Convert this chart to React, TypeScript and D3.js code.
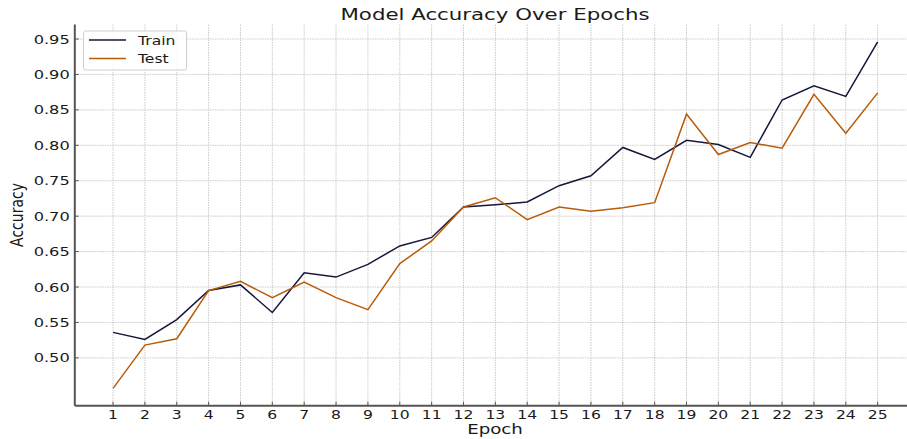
import React from "react";
import * as d3 from "d3";

const epochs = [1,2,3,4,5,6,7,8,9,10,11,12,13,14,15,16,17,18,19,20,21,22,23,24,25];
const trainAcc = [0.536,0.526,0.554,0.595,0.603,0.564,0.620,0.614,0.632,0.658,0.670,0.713,0.716,0.720,0.743,0.757,0.797,0.780,0.807,0.801,0.783,0.864,0.884,0.869,0.946];
const testAcc = [0.457,0.518,0.527,0.595,0.608,0.585,0.607,0.585,0.568,0.633,0.665,0.713,0.726,0.695,0.713,0.707,0.712,0.719,0.844,0.787,0.804,0.796,0.872,0.817,0.874];
const yTicks = [0.5,0.55,0.6,0.65,0.7,0.75,0.8,0.85,0.9,0.95];
const seriesNames = ["Train","Test"];
const colors = ["#16163a","#b85c0a"];

const W = 907, H = 439;
const FONT = "DejaVu Sans, sans-serif";
const SX = 1.3;

export default function App() {
  const x = d3.scaleLinear().domain([-0.2, 26.2]).range([74.8, 915.9]);
  const y = d3.scaleLinear().domain([0.4325, 0.9705]).range([405.7, 24.5]);
  const [x0, x1] = x.range();
  const [yb, yt] = y.range();
  const line = d3.line<number>().x((_, i) => x(epochs[i])).y(d => y(d));
  const series = [trainAcc, testAcc];

  const stretched = (tx: number, ty: number, txt: string, size: number, anchor: string, key?: string) => (
    <text key={key} transform={`translate(${tx},${ty}) scale(${SX},1)`} textAnchor={anchor}
      fontFamily={FONT} fontSize={size} fill="#1a1a1a">{txt}</text>
  );

  return (
    <svg width={W} height={H} style={{ position: "absolute", left: 0, top: 0, background: "#fff" }}>
      <rect width={W} height={H} fill="#fff" />
      {/* grid */}
      {yTicks.map(t => (
        <line key={"gy" + t} x1={x0} x2={x1} y1={y(t)} y2={y(t)} stroke="#c4c4c4" strokeWidth={0.9} strokeDasharray="1.5,1" />
      ))}
      {epochs.map(e => (
        <line key={"gx" + e} x1={x(e)} x2={x(e)} y1={yt} y2={yb} stroke="#c4c4c4" strokeWidth={0.9} strokeDasharray="1.5,1" />
      ))}
      {/* lines */}
      {series.map((s, i) => (
        <path key={"s" + i} d={line(s) || ""} fill="none" stroke={colors[i]} strokeWidth={1.5} strokeLinejoin="miter" />
      ))}
      {/* spines */}
      <line x1={x0} x2={x0} y1={yt} y2={yb} stroke="#555" strokeWidth={2} />
      <line x1={x0} x2={x1} y1={yb} y2={yb} stroke="#555" strokeWidth={2} />
      {/* ticks */}
      {yTicks.map(t => (
        <g key={"ty" + t}>
          <line x1={x0} x2={x0 + 4} y1={y(t)} y2={y(t)} stroke="#555" strokeWidth={1} />
          {stretched(x0 - 5, y(t) + 4.5, t.toFixed(2), 12.5, "end")}
        </g>
      ))}
      {epochs.map(e => (
        <g key={"tx" + e}>
          <line x1={x(e)} x2={x(e)} y1={yb} y2={yb - 4} stroke="#555" strokeWidth={1} />
          {stretched(x(e), 418.5, String(e), 12, "middle")}
        </g>
      ))}
      {/* labels */}
      {stretched(495, 19.5, "Model Accuracy Over Epochs", 16.4, "middle")}
      {stretched(495, 434, "Epoch", 14, "middle")}
      <text transform={`translate(23,215) rotate(-90) scale(1,${SX})`} textAnchor="middle"
        fontFamily={FONT} fontSize={14} fill="#1a1a1a">Accuracy</text>
      {/* legend */}
      <rect x={83.5} y={31} width={103} height={39} rx={2} fill="#fff" fillOpacity={0.85} stroke="#cfcfcf" strokeWidth={1} />
      {seriesNames.map((n, i) => (
        <g key={"lg" + n}>
          <line x1={89} x2={126} y1={40 + i * 18.5} y2={40 + i * 18.5} stroke={colors[i]} strokeWidth={1.5} />
          {stretched(138, 44.5 + i * 18.5, n, 12, "start")}
        </g>
      ))}
    </svg>
  );
}
